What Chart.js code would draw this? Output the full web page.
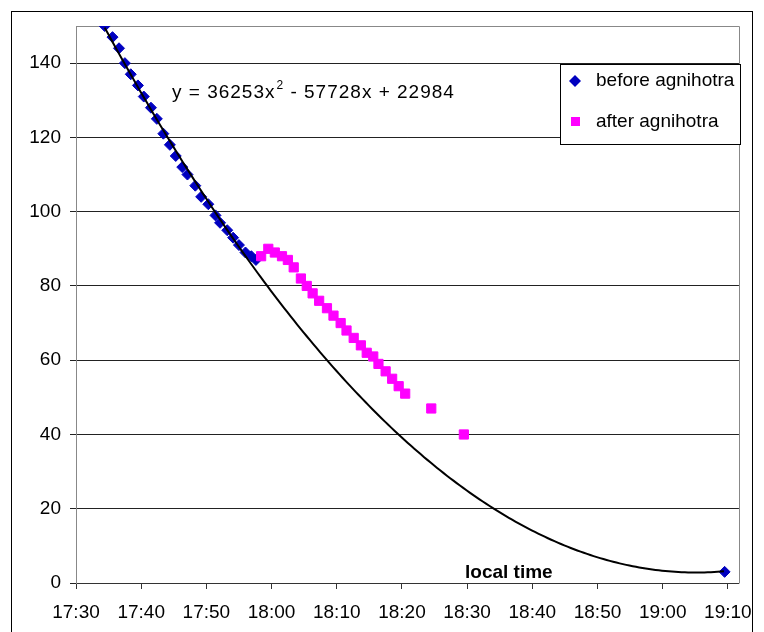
<!DOCTYPE html>
<html>
<head>
<meta charset="utf-8">
<script src="https://cdn.jsdelivr.net/npm/chart.js"></script>
<style>
  html, body { margin: 0; padding: 0; background: #fff; }
  #wrap { width: 764px; height: 632px; }
</style>
</head>
<body>
<div id="wrap"><canvas id="chart" width="764" height="632"></canvas></div>
<script>
// readings (local time, value)
const beforeTimes = ['17:34:24', '17:35:36', '17:36:36', '17:37:30', '17:38:24', '17:39:30', '17:40:24',
  '17:41:30', '17:42:24', '17:43:24', '17:44:24', '17:45:18', '17:46:18', '17:47:06', '17:48:18',
  '17:49:12', '17:50:18', '17:51:24', '17:52:06', '17:53:12', '17:54:06', '17:55:00', '17:56:00',
  '17:56:54', '17:57:36', '19:09:30'];
const beforeValues = [150, 147, 144, 140, 137, 134, 131, 128, 125, 121, 118, 115, 112, 110, 107,
  104, 102, 99, 97, 95, 93, 91, 89, 88, 87, 3];

const afterTimes = ['17:58:24', '17:59:30', '18:00:30', '18:01:36', '18:02:30', '18:03:24', '18:04:30',
  '18:05:24', '18:06:18', '18:07:18', '18:08:30', '18:09:30', '18:10:36', '18:11:30', '18:12:36',
  '18:13:42', '18:14:36', '18:15:36', '18:16:24', '18:17:30', '18:18:30', '18:19:30', '18:20:30',
  '18:24:30', '18:29:30'];
const afterValues = [88, 90, 89, 88, 87, 85, 82, 80, 78, 76, 74, 72, 70, 68, 66,
  64, 62, 61, 59, 57, 55, 53, 51, 47, 40];

// equation printed on the chart for the polynomial trendline
const trendEquation = ['y = 36253x', '2', ' - 57728x + 22984'];

const xTickLabels = ['17:30', '17:40', '17:50', '18:00', '18:10', '18:20', '18:30', '18:40', '18:50', '19:00', '19:10'];
const yTickValues = [0, 20, 40, 60, 80, 100, 120, 140];

const FONT = '"Liberation Sans", Arial, sans-serif';

const toMinutes = (t) => {
    const p = t.split(':').map(Number);
    return p[0] * 60 + p[1] + (p[2] || 0) / 60;
};
const fmtTime = (m) => {
    const h = Math.floor(m / 60);
    const mm = Math.round(m - h * 60);
    return h + ':' + String(mm).padStart(2, '0');
};

const beforePts = beforeTimes.map((t, i) => ({ x: toMinutes(t), y: beforeValues[i] }));
const afterPts = afterTimes.map((t, i) => ({ x: toMinutes(t), y: afterValues[i] }));

// 2nd order least squares trendline through the "before" readings (like the spreadsheet does)
const fitQuadratic = (pts) => {
    const n = pts.length;
    const mx = pts.reduce((s, p) => s + p.x, 0) / n;
    const S = [0, 0, 0, 0, 0], T = [0, 0, 0];
    pts.forEach(p => {
        const u = (p.x - mx) / 60;
        let pw = 1;
        for (let k = 0; k < 5; k++) { S[k] += pw; if (k < 3) T[k] += pw * p.y; pw *= u; }
    });
    // solve [[S0 S1 S2],[S1 S2 S3],[S2 S3 S4]] * [c0 c1 c2] = T
    const M = [[S[0], S[1], S[2], T[0]], [S[1], S[2], S[3], T[1]], [S[2], S[3], S[4], T[2]]];
    for (let i = 0; i < 3; i++) {
        for (let j = i + 1; j < 3; j++) {
            const f = M[j][i] / M[i][i];
            for (let k = i; k < 4; k++) M[j][k] -= f * M[i][k];
        }
    }
    const c = [0, 0, 0];
    for (let i = 2; i >= 0; i--) {
        let s = M[i][3];
        for (let k = i + 1; k < 3; k++) s -= M[i][k] * c[k];
        c[i] = s / M[i][i];
    }
    return (x) => { const u = (x - mx) / 60; return c[0] + c[1] * u + c[2] * u * u; };
};
const trendFn = fitQuadratic(beforePts);
const trendPts = [];
const tStart = beforePts[0].x, tEnd = beforePts[beforePts.length - 1].x;
for (let m = tStart; m <= tEnd + 1e-9; m += 0.5) {
    trendPts.push({ x: m, y: trendFn(m) });
}

const BLUE = '#0000C0';
const MAGENTA = '#FF00FF';

// frame, legend box, equation and axis caption
const decorations = {
    id: 'decorations',
    beforeDatasetsDraw(chart) {
        const { ctx, chartArea: a } = chart;
        ctx.save();
        ctx.strokeStyle = '#888';
        ctx.lineWidth = 1;
        ctx.beginPath();
        ctx.moveTo(Math.round(a.left) + 0.5, Math.round(a.top) + 0.5);
        ctx.lineTo(Math.round(a.right) + 0.5, Math.round(a.top) + 0.5);
        ctx.lineTo(Math.round(a.right) + 0.5, Math.round(a.bottom) + 0.5);
        ctx.stroke();
        ctx.restore();
    },
    afterDraw(chart) {
        const { ctx } = chart;
        ctx.save();

        // outer chart frame
        ctx.strokeStyle = '#000';
        ctx.lineWidth = 1;
        ctx.strokeRect(11.5, 11.5, 741, 640);

        // legend
        ctx.fillStyle = '#fff';
        ctx.fillRect(560, 64, 180, 80);
        ctx.strokeRect(560.5, 64.5, 180, 80);
        ctx.fillStyle = BLUE;
        ctx.beginPath();
        ctx.moveTo(575, 75); ctx.lineTo(581, 81); ctx.lineTo(575, 87); ctx.lineTo(569, 81);
        ctx.closePath();
        ctx.fill();
        ctx.fillStyle = MAGENTA;
        ctx.fillRect(571, 117, 9, 9);

        ctx.fillStyle = '#000';
        ctx.font = '19px ' + FONT;
        ctx.textBaseline = 'middle';
        ctx.textAlign = 'left';
        ctx.fillText(chart.data.datasets[2].label, 596, 81);
        ctx.fillText(chart.data.datasets[1].label, 596, 122);

        // trendline equation
        let x = 172;
        ctx.textBaseline = 'alphabetic';
        ctx.letterSpacing = '1px';
        ctx.font = '19px ' + FONT;
        ctx.fillText(trendEquation[0], x, 98);
        x += ctx.measureText(trendEquation[0]).width + 1;
        ctx.font = '12px ' + FONT;
        ctx.fillText(trendEquation[1], x, 89);
        x += ctx.measureText(trendEquation[1]).width;
        ctx.font = '19px ' + FONT;
        ctx.fillText(trendEquation[2], x, 98);
        ctx.letterSpacing = '0px';

        // axis caption
        ctx.font = 'bold 19px ' + FONT;
        ctx.fillText('local time', 465, 578);

        ctx.restore();
    }
};

new Chart(document.getElementById('chart'), {
    type: 'scatter',
    data: {
        datasets: [
            {
                label: 'trend',
                type: 'line',
                data: trendPts,
                borderColor: '#000',
                borderWidth: 2,
                pointRadius: 0,
                fill: false,
                tension: 0,
                order: 0
            },
            {
                label: 'after agnihotra',
                data: afterPts,
                pointStyle: 'rect',
                pointRadius: 6.5,
                pointBackgroundColor: MAGENTA,
                pointBorderColor: MAGENTA,
                pointBorderWidth: 1,
                showLine: false,
                order: 1
            },
            {
                label: 'before agnihotra',
                data: beforePts,
                pointStyle: 'rectRot',
                pointRadius: 5.5,
                pointBackgroundColor: BLUE,
                pointBorderColor: BLUE,
                pointBorderWidth: 1,
                showLine: false,
                order: 2
            }
        ]
    },
    options: {
        responsive: false,
        animation: false,
        layout: { padding: { left: 0, top: 26, right: 22, bottom: 0 } },
        plugins: {
            legend: { display: false },
            tooltip: { enabled: false }
        },
        scales: {
            x: {
                type: 'linear',
                min: toMinutes(xTickLabels[0]),
                max: toMinutes('19:11:42'),
                afterBuildTicks: (s) => { s.ticks = xTickLabels.map(l => ({ value: toMinutes(l) })); },
                afterFit: (s) => { s.height = 49; },
                ticks: {
                    callback: (v) => fmtTime(v),
                    font: { family: FONT, size: 19 },
                    color: '#000',
                    padding: 12,
                    maxRotation: 0,
                    autoSkip: false
                },
                grid: { drawOnChartArea: false, drawTicks: true, tickLength: 6, color: '#333' },
                border: { color: '#333' }
            },
            y: {
                min: 0,
                max: 150,
                afterBuildTicks: (s) => { s.ticks = yTickValues.map(v => ({ value: v })); },
                afterFit: (s) => { s.width = 76; },
                ticks: {
                    font: { family: FONT, size: 19 },
                    color: '#000',
                    padding: 9
                },
                grid: { tickLength: 6, color: '#222' },
                border: { color: '#888' }
            }
        }
    },
    plugins: [decorations]
});
</script>
</body>
</html>
